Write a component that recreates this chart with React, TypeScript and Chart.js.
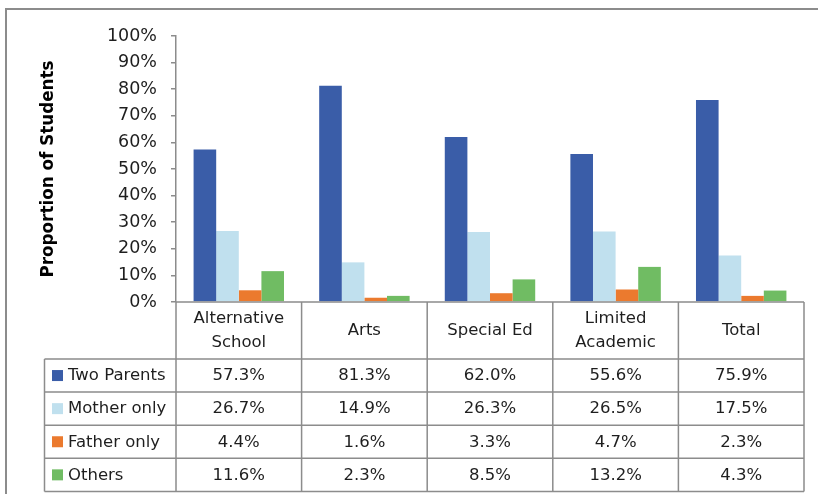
import React, { useEffect, useRef } from "react";
import { Chart, registerables } from "chart.js";

Chart.register(...registerables);

// Student family structure by school programme
const categories: string[][] = [
  ["Alternative", "School"],
  ["Arts"],
  ["Special Ed"],
  ["Limited", "Academic"],
  ["Total"],
];
const seriesNames = ["Two Parents", "Mother only", "Father only", "Others"];
const twoParents = [57.3, 81.3, 62.0, 55.6, 75.9];
const motherOnly = [26.7, 14.9, 26.3, 26.5, 17.5];
const fatherOnly = [4.4, 1.6, 3.3, 4.7, 2.3];
const others = [11.6, 2.3, 8.5, 13.2, 4.3];
const seriesColors = ["#3A5DA8", "#C0E0EE", "#EB7A2E", "#70BC63"];
const yTicks = [0, 10, 20, 30, 40, 50, 60, 70, 80, 90, 100];

const FONT = "'DejaVu Sans', sans-serif";
const LINE = "#8c8c8c";
const TEXT = "#1e1e1e";

const allSeries = [twoParents, motherOnly, fatherOnly, others];

// Draws the outer frame and the data table under the plot
const tablePlugin = {
  id: "dataTable",
  beforeDraw(chart: any) {
    const { ctx, width, height } = chart;
    ctx.save();
    ctx.fillStyle = "#ffffff";
    ctx.fillRect(0, 0, width, height);
    ctx.restore();
  },
  afterDraw(chart: any) {
    const { ctx, chartArea } = chart;
    const x = chart.scales.x;
    const n = categories.length;
    const colW = (chartArea.right - chartArea.left) / n;
    const left = chartArea.left;
    const right = chartArea.right;
    const top = chartArea.bottom;
    const headerBottom = top + 57;
    const rowH = 33.1;
    const legendLeft = 44.5;
    const bottom = headerBottom + rowH * seriesNames.length;

    ctx.save();
    // outer frame
    ctx.strokeStyle = LINE;
    ctx.lineWidth = 2;
    ctx.beginPath();
    ctx.moveTo(6, chart.height);
    ctx.lineTo(6, 9);
    ctx.lineTo(chart.width, 9);
    ctx.stroke();

    // table grid
    ctx.lineWidth = 1.5;
    ctx.beginPath();
    for (let i = 0; i <= n; i++) {
      const bx = left + i * colW;
      ctx.moveTo(bx, top);
      ctx.lineTo(bx, bottom);
    }
    ctx.moveTo(left, top);
    ctx.lineTo(right, top);
    for (let r = 0; r <= seriesNames.length; r++) {
      const by = headerBottom + r * rowH;
      ctx.moveTo(legendLeft, by);
      ctx.lineTo(right, by);
    }
    ctx.moveTo(legendLeft, headerBottom);
    ctx.lineTo(legendLeft, bottom);
    ctx.stroke();

    // header labels
    ctx.fillStyle = TEXT;
    ctx.font = `16.5px ${FONT}`;
    ctx.textAlign = "center";
    ctx.textBaseline = "middle";
    const headerMid = (top + headerBottom) / 2;
    categories.forEach((lines, i) => {
      const cx = x.getPixelForValue(i);
      const lh = 24;
      lines.forEach((ln, k) => {
        const cy = headerMid + (k - (lines.length - 1) / 2) * lh;
        ctx.fillText(ln, cx, cy);
      });
    });

    // rows
    seriesNames.forEach((name, r) => {
      const cy = headerBottom + r * rowH + rowH / 2;
      ctx.fillStyle = seriesColors[r];
      ctx.fillRect(52, cy - 5.5, 11, 11);
      ctx.fillStyle = TEXT;
      ctx.textAlign = "left";
      ctx.fillText(name, 68, cy + 0.5);
      ctx.textAlign = "center";
      allSeries[r].forEach((v, i) => {
        ctx.fillText(v.toFixed(1) + "%", x.getPixelForValue(i), cy + 0.5);
      });
    });
    ctx.restore();
  },
};

export default function App() {
  const canvasRef = useRef<HTMLCanvasElement | null>(null);

  useEffect(() => {
    if (!canvasRef.current) return;
    const chart = new Chart(canvasRef.current, {
      type: "bar",
      data: {
        labels: categories.map((c) => c.join(" ")),
        datasets: allSeries.map((vals, i) => ({
          label: seriesNames[i],
          data: vals,
          backgroundColor: seriesColors[i],
          borderWidth: 0,
          categoryPercentage: 0.72,
          barPercentage: 1,
        })),
      },
      options: {
        responsive: false,
        animation: false,
        devicePixelRatio: 1,
        layout: { padding: { left: 0, top: 36, right: 14, bottom: 192 } },
        plugins: {
          legend: { display: false },
          tooltip: { enabled: false },
        },
        scales: {
          x: {
            ticks: { display: false },
            grid: { display: false },
            border: { display: false },
            afterFit: (scale: any) => {
              scale.height = 0;
            },
          },
          y: {
            min: yTicks[0],
            max: yTicks[yTicks.length - 1],
            afterFit: (scale: any) => {
              scale.width = 176;
            },
            afterBuildTicks: (scale: any) => {
              scale.ticks = yTicks.map((v) => ({ value: v }));
            },
            ticks: {
              padding: 14,
              color: TEXT,
              font: { family: FONT, size: 17.5 },
              callback: (v: any) => `${v}%`,
            },
            grid: {
              drawOnChartArea: false,
              drawTicks: true,
              tickLength: 5,
              color: LINE,
              lineWidth: 1.5,
            },
            border: { display: true, color: LINE, width: 1.5 },
            title: {
              display: true,
              text: "Proportion of Students",
              color: "#000",
              font: { family: FONT, size: 16.8, weight: "bold" },
              padding: { top: 39, bottom: 0 },
            },
          },
        },
      },
      plugins: [tablePlugin],
    });
    return () => chart.destroy();
  }, []);

  return (
    <div style={{ position: "fixed", left: 0, top: 0, width: 818, height: 494, background: "#fff" }}>
      <canvas ref={canvasRef} width={818} height={494} style={{ display: "block" }} />
    </div>
  );
}
